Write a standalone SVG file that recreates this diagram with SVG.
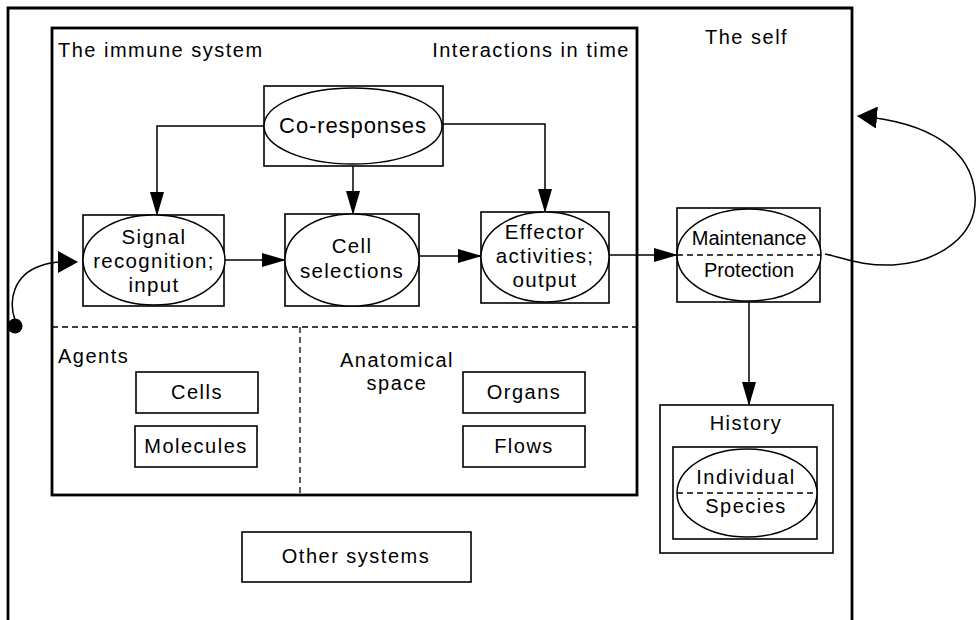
<svg xmlns="http://www.w3.org/2000/svg" width="977" height="620" viewBox="0 0 977 620">
<defs>
<style>
.t{font-family:"Liberation Sans",Arial,sans-serif;font-size:20px;letter-spacing:1.5px;fill:#000}
.e{font-size:20.5px;letter-spacing:1.3px}
.c{text-anchor:middle}
.box{fill:#fff;stroke:#000;stroke-width:1.6}
.el{fill:#fff;stroke:#000;stroke-width:1.5}
.ln{fill:none;stroke:#000;stroke-width:1.5}
.dash{fill:none;stroke:#000;stroke-width:1.3;stroke-dasharray:6 4}
.thick{fill:none;stroke:#000;stroke-width:2.8}
</style>
<marker id="ah" viewBox="0 0 24 14" refX="23" refY="7" markerWidth="24" markerHeight="14" markerUnits="userSpaceOnUse" orient="auto">
<path d="M0,0 L24,7 L0,14 Z" fill="#000"/>
</marker>
<marker id="ahb" viewBox="0 0 20 22" refX="19" refY="11" markerWidth="20" markerHeight="22" markerUnits="userSpaceOnUse" orient="auto">
<path d="M0,0 L20,11 L0,22 Z" fill="#000"/>
</marker>
</defs>
<rect width="977" height="620" fill="#fff"/>
<g id="self">
<path class="thick" d="M8,620 V8 H852 V620"/>
<text class="t" x="705" y="44">The self</text>
</g>
<g id="immune-system">
<rect class="thick" x="52" y="28" width="585" height="467" fill="none"/>
<text class="t" x="58" y="57">The immune system</text>
<text class="t" x="630" y="57" text-anchor="end">Interactions in time</text>
<line class="dash" x1="52" y1="327" x2="637" y2="327"/>
<line class="dash" x1="300" y1="327" x2="300" y2="495"/>
<text class="t" x="58" y="363">Agents</text>
<text class="t c" x="397" y="366.5">Anatomical</text>
<text class="t c" x="397" y="390">space</text>
</g>
<g id="connectors">
<path class="ln" d="M264,126 H157 V215" marker-end="url(#ah)"/>
<path class="ln" d="M353,166 V214" marker-end="url(#ah)"/>
<path class="ln" d="M443,124 H545 V212" marker-end="url(#ah)"/>
<path class="ln" d="M224,260 H285" marker-end="url(#ah)"/>
<path class="ln" d="M419,256 H481" marker-end="url(#ah)"/>
<path class="ln" d="M609,255 H677" marker-end="url(#ah)"/>
<path class="ln" d="M749,302 V405" marker-end="url(#ah)"/>
<path class="ln" stroke-width="2.8" d="M825,254 C845,258 860,266 893,265 C940,262 978,235 975,195 C972,150 930,122 858,116" marker-end="url(#ahb)"/>
<path class="ln" stroke-width="2.8" d="M15,320 C8,300 14,275 40,266 C48,263 55,262 62,262 L77,262" marker-end="url(#ahb)"/>
<circle cx="15" cy="326" r="7.5" fill="#000"/>
</g>
<g id="co-responses">
<rect class="box" x="264" y="86" width="179" height="80"/>
<ellipse class="el" cx="353" cy="126" rx="89" ry="38"/>
<text class="t c" x="353" y="133" style="font-size:22px;letter-spacing:0.9px">Co-responses</text>
</g>
<g id="signal-recognition">
<rect class="box" x="83" y="215" width="141" height="91"/>
<ellipse class="el" cx="154" cy="260" rx="71" ry="45"/>
<text class="t e c" x="154" y="244">Signal</text>
<text class="t e c" x="154" y="268">recognition;</text>
<text class="t e c" x="154" y="292">input</text>
</g>
<g id="cell-selections">
<rect class="box" x="285" y="214" width="134" height="92"/>
<ellipse class="el" cx="352" cy="260" rx="67" ry="46"/>
<text class="t e c" x="352" y="253">Cell</text>
<text class="t e c" x="352" y="278">selections</text>
</g>
<g id="effector-activities">
<rect class="box" x="481" y="212" width="128" height="91"/>
<ellipse class="el" cx="545" cy="257" rx="64" ry="45"/>
<text class="t e c" x="545" y="239">Effector</text>
<text class="t e c" x="545" y="263">activities;</text>
<text class="t e c" x="545" y="287">output</text>
</g>
<g id="maintenance-protection">
<rect class="box" x="677" y="208" width="143" height="94"/>
<ellipse class="el" cx="749" cy="255" rx="72" ry="46"/>
<line class="dash" x1="677" y1="255" x2="821" y2="255"/>
<text class="t c" x="749" y="245" style="letter-spacing:0">Maintenance</text>
<text class="t c" x="749" y="277" style="letter-spacing:0">Protection</text>
</g>
<g id="history">
<rect class="box" x="660" y="405" width="173" height="148"/>
<text class="t c" x="746" y="430">History</text>
<rect class="box" x="673" y="447" width="144" height="92"/>
<ellipse class="el" cx="747" cy="493" rx="70" ry="44"/>
<line class="dash" x1="677" y1="493" x2="817" y2="493"/>
<text class="t c" x="746" y="484">Individual</text>
<text class="t c" x="746" y="513">Species</text>
</g>
<g id="cells"><rect class="box" x="136" y="372" width="122" height="41"/><text class="t c" x="197" y="399">Cells</text></g>
<g id="molecules"><rect class="box" x="135" y="426" width="122" height="41"/><text class="t c" x="196" y="453">Molecules</text></g>
<g id="organs"><rect class="box" x="463" y="372" width="122" height="41"/><text class="t c" x="524" y="399">Organs</text></g>
<g id="flows"><rect class="box" x="463" y="426" width="122" height="41"/><text class="t c" x="524" y="453">Flows</text></g>
<g id="other-systems"><rect class="box" x="242" y="532" width="229" height="50"/><text class="t c" x="356" y="563">Other systems</text></g>
</svg>
